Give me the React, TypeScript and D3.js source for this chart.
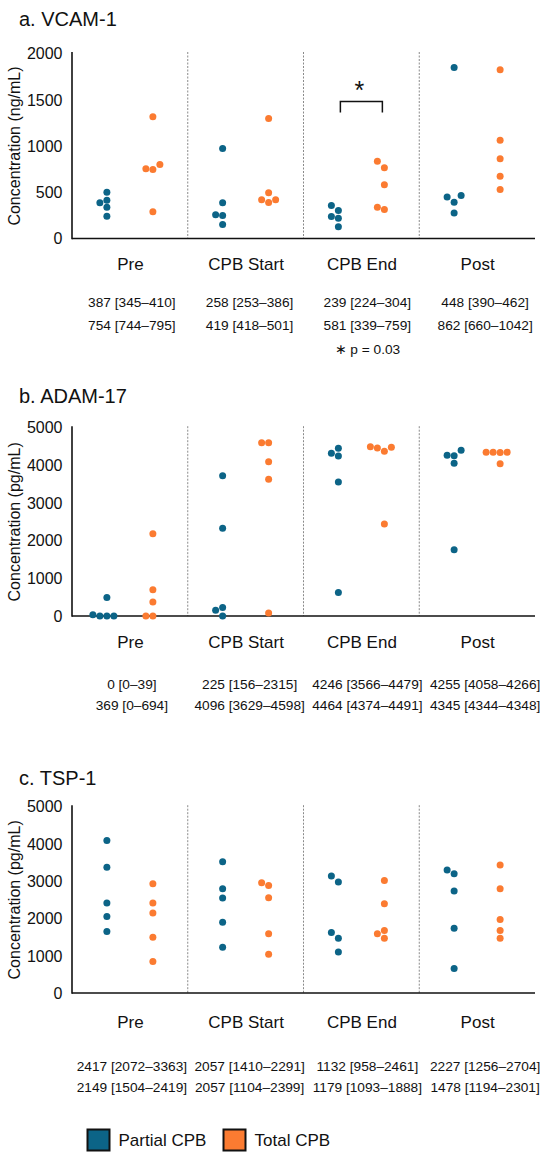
import React from 'react';
import * as d3 from 'd3';

const categories = ['Pre', 'CPB Start', 'CPB End', 'Post'];

// VCAM-1 (ng/mL), one array of patients per time point
const vcamPartial = [
  [339, 501, 414, 387, 241],
  [973, 386, 258, 249, 151],
  [357, 303, 220, 239, 126],
  [1849, 465, 448, 393, 277],
];
const vcamTotal = [
  [1315, 746, 800, 754, 288],
  [1297, 419, 494, 418, 389],
  [836, 764, 581, 339, 314],
  [1823, 1063, 862, 674, 530],
];
const vcamStatsPartial = ['387 [345–410]', '258 [253–386]', '239 [224–304]', '448 [390–462]'];
const vcamStatsTotal = ['754 [744–795]', '419 [418–501]', '581 [339–759]', '862 [660–1042]'];

// ADAM-17 (pg/mL)
const adamPartial = [
  [0, 0, 35, 0, 493],
  [3722, 2330, 225, 150, 0],
  [4320, 4454, 4246, 3555, 621],
  [4255, 4401, 4266, 4058, 1758],
];
const adamTotal = [
  [2181, 700, 369, 0, 0],
  [4598, 4598, 4096, 3629, 79],
  [4464, 4374, 4491, 4479, 2445],
  [4344, 4348, 4345, 4350, 4040],
];
const adamStatsPartial = ['0 [0–39]', '225 [156–2315]', '4246 [3566–4479]', '4255 [4058–4266]'];
const adamStatsTotal = ['369 [0–694]', '4096 [3629–4598]', '4464 [4374–4491]', '4345 [4344–4348]'];

// TSP-1 (pg/mL)
const tspPartial = [
  [4090, 3372, 2413, 2054, 1650],
  [3525, 2798, 2547, 1901, 1229],
  [3139, 2978, 1471, 1623, 1103],
  [3202, 3300, 2735, 1740, 655],
];
const tspTotal = [
  [2933, 2413, 2144, 1498, 843],
  [2960, 2888, 2556, 1587, 1040],
  [3022, 2395, 1677, 1471, 1587],
  [3435, 2798, 1973, 1677, 1471],
];
const tspStatsPartial = ['2417 [2072–3363]', '2057 [1410–2291]', '1132 [958–2461]', '2227 [1256–2704]'];
const tspStatsTotal = ['2149 [1504–2419]', '2057 [1104–2399]', '1179 [1093–1888]', '1478 [1194–2301]'];

const seriesNames = ['Partial CPB', 'Total CPB'];

const BLUE = '#0c6487';
const ORANGE = '#fb7b31';
const FONT = '"Liberation Sans", Arial, Helvetica, sans-serif';
const DOT_R = 3.5;

const xScale = d3.scaleBand<string>().domain(categories).range([72, 535]);
const statScale = d3.scaleBand<string>().domain(categories).range([73, 544]);

// simple beeswarm: lowest values first, push sideways when dots would overlap
function swarm(values: number[], y: d3.ScaleLinear<number, number>, cx: number) {
  const step = 7;
  const order = values.map((_, i) => i).sort((a, b) => values[a] - values[b]);
  const placed: { x: number; y: number }[] = [];
  const xs: number[] = new Array(values.length).fill(cx);
  order.forEach((i) => {
    const py = y(values[i]);
    for (let k = 0; k < 12; k++) {
      const n = Math.ceil(k / 2);
      const px = cx + (k % 2 === 1 ? -n : n) * step;
      if (placed.every((p) => Math.hypot(p.x - px, p.y - py) >= step - 0.2)) {
        placed.push({ x: px, y: py });
        xs[i] = px;
        break;
      }
    }
  });
  return xs;
}

interface PanelProps {
  title: string;
  titleY: number;
  yLabel: string;
  max: number;
  tickCount: number;
  yRange: [number, number];
  partial: number[][];
  total: number[][];
  statsPartial: string[];
  statsTotal: string[];
  labelY: number;
  statY: [number, number];
  signif?: { category: string; value: number };
}

const Panel: React.FC<PanelProps> = ({
  title, titleY, yLabel, max, tickCount, yRange, partial, total,
  statsPartial, statsTotal, labelY, statY, signif,
}) => {
  const y = d3.scaleLinear().domain([0, max]).range(yRange);
  const [y0, y1] = yRange;
  const x0 = xScale.range()[0];
  const xEnd = xScale.range()[1];
  const bw = xScale.bandwidth();
  const groupOffset = 23;

  return (
    <g>
      <text x={19} y={titleY} fontSize={20} fill="#111">{title}</text>

      {/* y label */}
      <text
        transform={`translate(20, ${(y0 + y1) / 2}) rotate(-90)`}
        textAnchor="middle"
        fontSize={16}
        fill="#111"
      >
        {yLabel}
      </text>

      {/* tick labels */}
      {y.ticks(tickCount).map((t) => (
        <text key={t} x={62.5} y={y(t)} dy="0.36em" textAnchor="end" fontSize={16} fill="#111">
          {t}
        </text>
      ))}

      {/* dashed separators */}
      {categories.slice(1).map((c) => (
        <line
          key={c}
          x1={xScale(c)}
          x2={xScale(c)}
          y1={y1 - 1.5}
          y2={y0}
          stroke="#8a8a8a"
          strokeWidth={1}
          strokeDasharray="2,1.5"
        />
      ))}

      {/* axes */}
      <line x1={x0} x2={x0} y1={y1 - 1.5} y2={y0 + 0.8} stroke="#111" strokeWidth={1.6} />
      <line x1={x0} x2={xEnd} y1={y0} y2={y0} stroke="#111" strokeWidth={1.6} />

      {/* dots */}
      {categories.map((c, ci) => {
        const center = (xScale(c) ?? 0) + bw / 2;
        const px = swarm(partial[ci], y, center - groupOffset);
        const tx = swarm(total[ci], y, center + groupOffset);
        return (
          <g key={c}>
            {partial[ci].map((v, i) => (
              <circle key={`p${i}`} cx={px[i]} cy={y(v)} r={DOT_R} fill={BLUE} />
            ))}
            {total[ci].map((v, i) => (
              <circle key={`t${i}`} cx={tx[i]} cy={y(v)} r={DOT_R} fill={ORANGE} />
            ))}
          </g>
        );
      })}

      {/* significance bracket */}
      {signif && (() => {
        const center = (xScale(signif.category) ?? 0) + bw / 2;
        const top = y(signif.value);
        const xa = center - groupOffset + 2;
        const xb = center + groupOffset - 2;
        return (
          <g>
            <path
              d={`M${xa},${top + 11}V${top}H${xb}V${top + 11}`}
              fill="none"
              stroke="#111"
              strokeWidth={1.5}
            />
            <text x={center - 2} y={top - 3} textAnchor="middle" fontSize={25} fill="#111">*</text>
          </g>
        );
      })()}

      {/* category labels */}
      {categories.map((c) => (
        <text
          key={c}
          x={(xScale(c) ?? 0) + bw / 2 + 0.5}
          y={labelY}
          textAnchor="middle"
          fontSize={17}
          fill="#111"
        >
          {c}
        </text>
      ))}

      {/* median [IQR] rows */}
      {categories.map((c, ci) => (
        <g key={c} fontSize={13.7} fill="#111" textAnchor="middle">
          <text x={(statScale(c) ?? 0) + statScale.bandwidth() / 2} y={statY[0]}>{statsPartial[ci]}</text>
          <text x={(statScale(c) ?? 0) + statScale.bandwidth() / 2} y={statY[1]}>{statsTotal[ci]}</text>
        </g>
      ))}
    </g>
  );
};

export default function App() {
  return (
    <div style={{ position: 'absolute', left: 0, top: 0 }}>
      <svg width={550} height={1159} style={{ display: 'block', fontFamily: FONT, background: '#fff' }}>
        <rect width={550} height={1159} fill="#fff" />
        <Panel
          title="a. VCAM-1"
          titleY={26}
          yLabel="Concentration (ng/mL)"
          max={2000}
          tickCount={4}
          yRange={[238.5, 53.5]}
          partial={vcamPartial}
          total={vcamTotal}
          statsPartial={vcamStatsPartial}
          statsTotal={vcamStatsTotal}
          labelY={270}
          statY={[307, 330]}
          signif={{ category: 'CPB End', value: 1480 }}
        />
        <text
          x={(statScale('CPB End') ?? 0) + statScale.bandwidth() / 2}
          y={354}
          textAnchor="middle"
          fontSize={13.7}
          fill="#111"
        >
          ∗ p = 0.03
        </text>
        <Panel
          title="b. ADAM-17"
          titleY={403}
          yLabel="Concentration (pg/mL)"
          max={5000}
          tickCount={5}
          yRange={[616, 427.7]}
          partial={adamPartial}
          total={adamTotal}
          statsPartial={adamStatsPartial}
          statsTotal={adamStatsTotal}
          labelY={648}
          statY={[689, 710]}
        />
        <Panel
          title="c. TSP-1"
          titleY={785}
          yLabel="Concentration (pg/mL)"
          max={5000}
          tickCount={5}
          yRange={[993, 806.7]}
          partial={tspPartial}
          total={tspTotal}
          statsPartial={tspStatsPartial}
          statsTotal={tspStatsTotal}
          labelY={1028}
          statY={[1071, 1092]}
        />

        {/* legend */}
        {seriesNames.map((name, i) => {
          const lx = i === 0 ? 87.5 : 223.5;
          return (
            <g key={name}>
              <rect x={lx} y={1129.5} width={22} height={21} fill={i === 0 ? BLUE : ORANGE} stroke="#111" strokeWidth={2} />
              <text x={lx + 31} y={1146} fontSize={17} fill="#111">{name}</text>
            </g>
          );
        })}
      </svg>
    </div>
  );
}
